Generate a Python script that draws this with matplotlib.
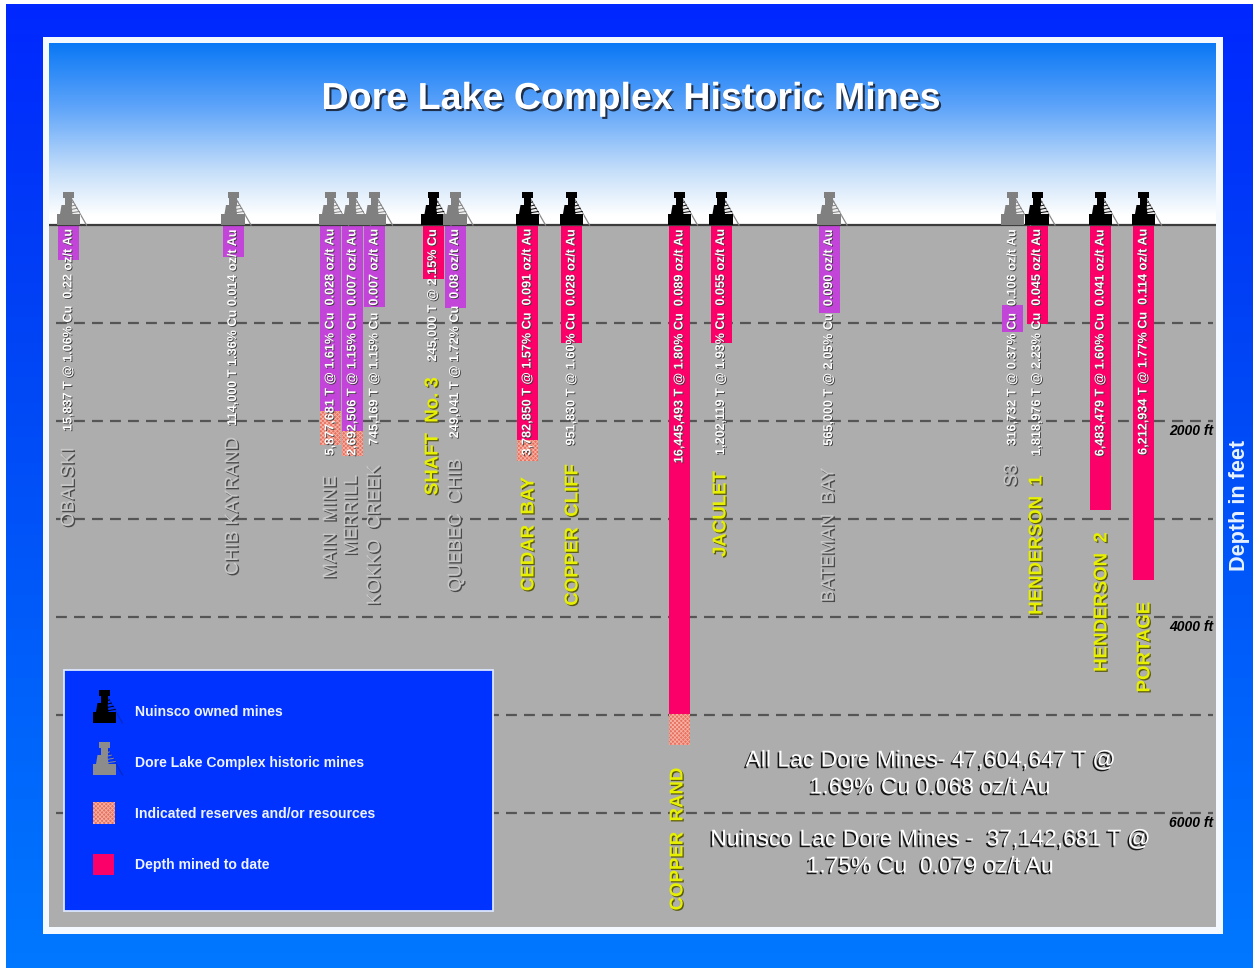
#importing required modules
import numpy as np
import matplotlib
matplotlib.use('Agg')
import matplotlib.pyplot as plt
import matplotlib.patheffects as pe
from matplotlib.colors import LinearSegmentedColormap
from matplotlib.patches import Rectangle, Polygon

plt.rcParams['font.family'] = ['Liberation Sans', 'DejaVu Sans']
plt.rcParams['hatch.linewidth'] = 0.6

#mine data
mine_names = ["OBALSKI", "CHIB KAYRAND", "MAIN  MINE", "MERRILL", "KOKKO  CREEK",
              "SHAFT  No. 3", "QUEBEC  CHIB", "CEDAR  BAY", "COPPER  CLIFF",
              "COPPER  RAND", "JACULET", "BATEMAN  BAY", "S3", "HENDERSON  1",
              "HENDERSON  2", "PORTAGE"]
mine_stats = ["15,837 T @ 1.06% Cu  0.22 oz/t Au",
              "114,000 T 1.36% Cu 0.014 oz/t Au",
              "5,877,681 T @ 1.61% Cu  0.028 oz/t Au",
              "2,692,506 T @ 1.15% Cu  0.007 oz/t Au",
              "745,169 T @ 1.15% Cu  0.007 oz/t Au",
              "245,000 T @ 2.15% Cu",
              "249,041 T @ 1.72% Cu  0.08 oz/t Au",
              "3,782,850 T @ 1.57% Cu  0.091 oz/t Au",
              "951,830 T @ 1.60% Cu  0.028 oz/t Au",
              "16,445,493 T @ 1.80% Cu  0.089 oz/t Au",
              "1,202,119 T @ 1.93% Cu  0.055 oz/t Au",
              "565,000 T @ 2.05% Cu  0.090 oz/t Au",
              "316,732 T @ 0.37% Cu  0.106 oz/t Au",
              "1,818,976 T @ 2.23% Cu  0.045 oz/t Au",
              "6,483,479 T @ 1.60% Cu  0.041 oz/t Au",
              "6,212,934 T @ 1.77% Cu  0.114 oz/t Au"]
nuinsco_owned = [False, False, False, False, False, True, False, True, True,
                 True, True, False, False, True, True, True]
mined_from_ft = [0, 0, 0, 0, 0, 0, 0, 0, 0, 0, 0, 0, 816, 0, 0, 0]
mined_to_ft = [357, 327, 1898, 2102, 837, 551, 847, 2194, 1204, 4990, 1204, 898,
               1092, 1010, 2908, 3622]
reserves_to_ft = [357, 327, 2245, 2357, 837, 551, 847, 2408, 1204, 5306, 1204, 898,
                  1092, 1010, 2908, 3622]
depth_lines_ft = [1000, 2000, 3000, 4000, 5000, 6000]
depth_labels_ft = [2000, 4000, 6000]

legend_labels = ["Nuinsco owned mines", "Dore Lake Complex historic mines",
                 "Indicated reserves and/or resources", "Depth mined to date"]
summary_lines = ["All Lac Dore Mines- 47,604,647 T @", "1.69% Cu 0.068 oz/t Au",
                 "Nuinsco Lac Dore Mines -  37,142,681 T @", "1.75% Cu  0.079 oz/t Au"]

#layout, in picture pixels
shaft_x = [68.5, 233, 330.5, 352.5, 374.5, 433, 455, 527.5, 571.5, 679.5, 721, 829,
           1012.5, 1037, 1100.5, 1143.5]
name_x = [69, 233, 331, 352, 375, 433, 456, 529, 573, 678, 721, 829, 1012, 1037, 1102, 1145]
name_y = [487, 506, 527, 515, 535, 436, 525, 534, 535, 839, 514, 535, 475, 545, 602, 647]

PINK = '#fa0068'
PURPLE = '#c244d8'
GROUND = '#adadad'
YELLOW = '#e6f000'
GROUND_PX = 225
PX_PER_1000FT = 98.0


def shadow(dx, dy, col):
    return [pe.SimplePatchShadow(offset=(dx, dy), shadow_rgbFace=col, alpha=1), pe.Normal()]


def headframe(a, cx, base, col, lattice='#f0f0f0', guy='#8a8a8a', z=3):
    #small mine headframe icon, base is the pixel row of its foot
    a.plot([cx + 2, cx + 18], [base - 28, base], color=guy, lw=0.9, zorder=z)
    a.add_patch(Polygon([[cx + 1, base - 28], [cx + 12.5, base - 9], [cx + 1, base - 9]],
                        fc=lattice, ec='none', zorder=z))
    for k in range(1, 6):
        a.plot([cx + 1, cx + 1 + k * 1.95], [base - 28 + k * 3.2, base - 28 + k * 3.2 - 1.5],
               color=col, lw=0.7, zorder=z)
    a.add_patch(Rectangle((cx - 12, base - 11), 23.5, 11, fc=col, ec='none', zorder=z + 1))
    a.add_patch(Polygon([[cx - 8.5, base - 11], [cx - 7, base - 20], [cx + 3, base - 20], [cx + 4, base - 11]],
                        fc=col, ec='none', zorder=z + 1))
    a.add_patch(Rectangle((cx - 4, base - 29), 7.5, 10, fc=col, ec='none', zorder=z + 1))
    a.add_patch(Rectangle((cx - 5.5, base - 33), 11, 5.5, fc=col, ec='none', zorder=z + 1))


fig = plt.figure(figsize=(12.53, 9.68), dpi=100, facecolor='white')

#background layer in pixels
bg = fig.add_axes([0, 0, 1, 1])
bg.axis('off')
back_cmap = LinearSegmentedColormap.from_list('back', [(0, '#0028ff'), (0.3, '#0040f5'), (1, '#0078ff')])
bg.imshow(np.linspace(0, 1, 256).reshape(-1, 1), cmap=back_cmap, aspect='auto',
          extent=(6, 1253, 968, 4))
bg.set_xlim(0, 1253)
bg.set_ylim(968, 0)
bg.add_patch(Rectangle((43, 37), 1180, 897, fc='#f4f9ff', ec='none', zorder=2))

#main axes, x in pixels and y in feet below surface
ax = fig.add_axes([49 / 1253, 1 - 927 / 968, (1216 - 49) / 1253, (927 - 43) / 968])
ax.set_xlim(49, 1216)
ax.set_ylim((927 - GROUND_PX) / PX_PER_1000FT * 1000, (43 - GROUND_PX) / PX_PER_1000FT * 1000)
ax.axis('off')
sky_cmap = LinearSegmentedColormap.from_list('sky', [(0, '#0a78f5'), (0.35, '#5ea4fa'),
                                                     (0.7, '#c4def9'), (0.95, '#ffffff'), (1, '#ffffff')])
y_lo, y_hi = ax.get_ylim()
ax.imshow(np.linspace(0, 1, 256).reshape(-1, 1), cmap=sky_cmap, aspect='auto',
          extent=(49, 1216, 0, y_hi), zorder=0)
ax.axhspan(0, y_lo, color=GROUND, lw=0, zorder=0.5)
ax.set_xlim(49, 1216)
ax.set_ylim(y_lo, y_hi)
ax.axhline(0, color='#3c3c3c', lw=1.6, zorder=5)

#dashed depth lines and their labels
ax.hlines(depth_lines_ft, 56, 1213, color='#555555', lw=1.6, linestyles=(0, (4.9, 3.2)), zorder=1)
for d in depth_labels_ft:
    ax.text(1213, d + 105, f"{d} ft", ha='right', va='center', fontsize=10,
            fontweight='bold', fontstyle='italic', color='black', zorder=6)

#the shafts
bar_cols = [PINK if owned else PURPLE for owned in nuinsco_owned]
ax.bar(shaft_x, np.array(mined_to_ft) - np.array(mined_from_ft), width=21, bottom=mined_from_ft,
       color=bar_cols, linewidth=0, zorder=2)
ax.bar(shaft_x, np.array(reserves_to_ft) - np.array(mined_to_ft), width=21, bottom=mined_to_ft,
       color='#e8705f', edgecolor='#f5b2a4', hatch='xxxxxxxx', linewidth=0, zorder=2)

#overlay in pixels, for icons, names and the legend box
ov = fig.add_axes([0, 0, 1, 1])
ov.set_xlim(0, 1253)
ov.set_ylim(968, 0)
ov.axis('off')
ov.patch.set_alpha(0)

for i in range(len(mine_names)):
    owned = nuinsco_owned[i]
    headframe(ov, shaft_x[i], GROUND_PX, 'black' if owned else '#808080')
    ov.text(shaft_x[i], 229, mine_stats[i], rotation=90, ha='center', va='top', fontsize=9.1,
            fontweight='bold', color='white', zorder=6, path_effects=shadow(0.6, -0.6, '#3a3a3a'))
    if owned:
        ov.text(name_x[i], name_y[i], mine_names[i], rotation=90, ha='center', va='center',
                fontsize=13.4, fontweight='bold', color=YELLOW, zorder=6,
                path_effects=shadow(0.9, -0.9, '#5a5a10'))
    else:
        ov.text(name_x[i], name_y[i], mine_names[i], rotation=90, ha='center', va='center',
                fontsize=13.4, color='#c8c8c8', zorder=6, path_effects=shadow(1.1, -1.0, '#4a4a4a'))

#title and axis note
ov.text(631, 99, "Dore Lake Complex Historic Mines", ha='center', va='center', fontsize=27.1,
        fontweight='bold', color='white', zorder=6, path_effects=shadow(1.5, -1.5, '#20304a'))
ov.text(1240, 505, "Depth in feet", rotation=90, ha='center', va='center', fontsize=15.6,
        fontweight='bold', color='#e8f2ff', zorder=6)

#summary text
for txt, y in zip(summary_lines, [760, 787, 839, 866]):
    ov.text(930, y, txt, ha='center', va='center', fontsize=16.5, color='white', zorder=6,
            path_effects=shadow(-1.2, -1.2, '#151515'))

#legend box
ov.add_patch(Rectangle((64, 670), 429, 241, fc='#0033ff', ec='#dbe6ff', lw=1.3, zorder=7))
headframe(ov, 104.5, 723, 'black', lattice='#0033ff', guy='#0a2ac0', z=8)
headframe(ov, 104.5, 775, '#8c8c8c', lattice='#0033ff', guy='#0a2ac0', z=8)
ov.add_patch(Rectangle((93, 802), 22, 22, fc='#e8705f', ec='#f5b2a4', hatch='xxxxxxxx', lw=0, zorder=8))
ov.add_patch(Rectangle((93, 854), 21, 21, fc=PINK, ec='none', zorder=8))
for txt, y in zip(legend_labels, [712, 763, 814, 865]):
    ov.text(135, y, txt, ha='left', va='center', fontsize=10.1, fontweight='bold', color='#eef3ff', zorder=9)

fig.savefig('out.png', dpi=100)
